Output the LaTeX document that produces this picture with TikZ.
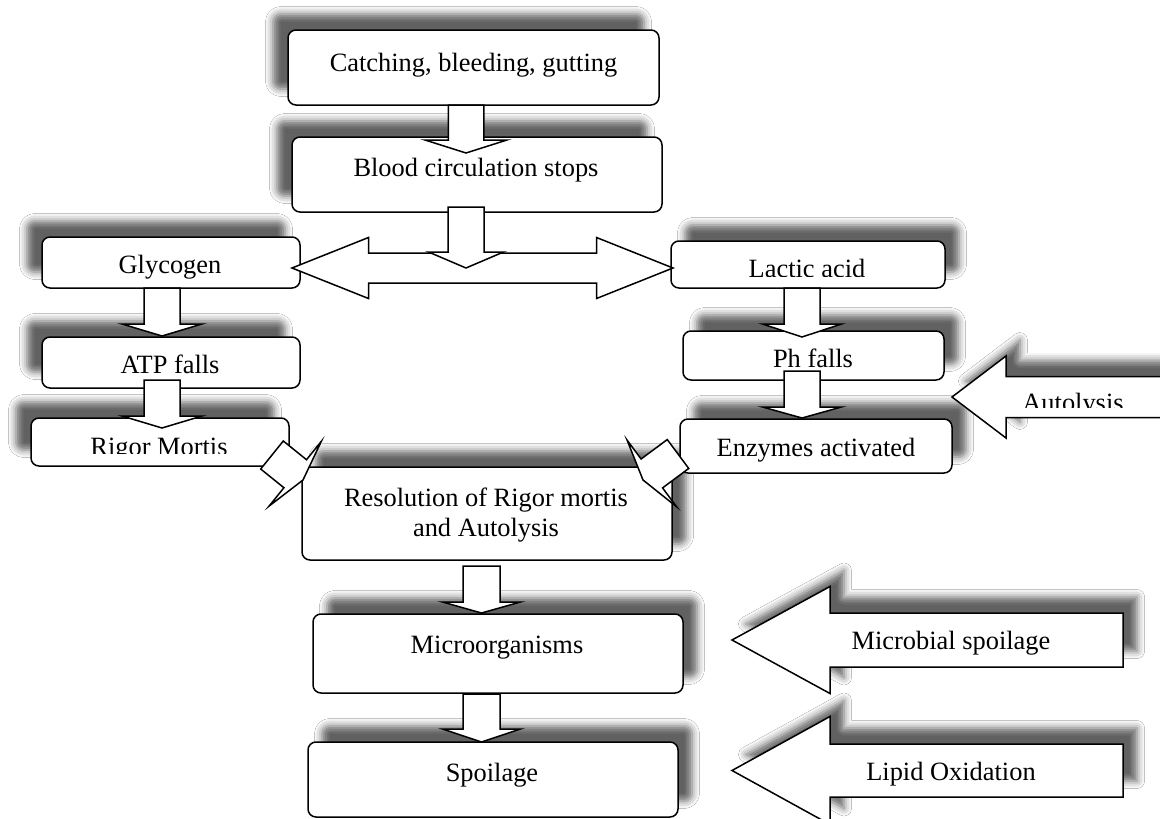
\documentclass[tikz,border=0pt]{standalone}
\usepackage{fontspec}
\setmainfont{Liberation Serif}
\usetikzlibrary{calc,shadows.blur}
\tikzset{
  box/.style={draw=black, line width=1.5pt, rounded corners=8pt, fill=white, inner sep=0pt},
  lsh/.style={blur shadow={shadow xshift=-15pt, shadow yshift=16pt, shadow blur radius=7.5pt, shadow opacity=62}},
  rsh/.style={blur shadow={shadow xshift=14pt, shadow yshift=16pt, shadow blur radius=7.5pt, shadow opacity=62}},
  txt/.style={font=\fontsize{26.4}{31}\selectfont, inner sep=0pt, anchor=base},
  barrow/.style={draw=black, line width=1.5pt, fill=white, line join=miter, miter limit=12},
}
% #1 extra style, #2 start, #3 tip, #4 half shaft width, #5 half head width, #6 head length
\newcommand{\blockarrow}[6][]{%
  \coordinate (bah) at ($(#3)!#6pt!(#2)$);
  \draw[barrow,#1] ($(#2)!#4pt!90:(#3)$) -- ($(bah)!#4pt!90:(#3)$) -- ($(bah)!#5pt!90:(#3)$) -- (#3)
     -- ($(bah)!#5pt!-90:(#3)$) -- ($(bah)!#4pt!-90:(#3)$) -- ($(#2)!#4pt!-90:(#3)$) -- cycle;}
% #1 left tip, #2 right tip, #3 half shaft, #4 half head, #5 head length
\newcommand{\dblarrow}[5]{%
  \coordinate (dhl) at ($(#1)!#5pt!(#2)$);
  \coordinate (dhr) at ($(#2)!#5pt!(#1)$);
  \draw[barrow] (#1) -- ($(dhl)!#4pt!90:(#2)$) -- ($(dhl)!#3pt!90:(#2)$) -- ($(dhr)!#3pt!-90:(#1)$)
     -- ($(dhr)!#4pt!-90:(#1)$) -- (#2) -- ($(dhr)!#4pt!90:(#1)$) -- ($(dhr)!#3pt!90:(#1)$)
     -- ($(dhl)!#3pt!-90:(#2)$) -- ($(dhl)!#4pt!-90:(#2)$) -- cycle;}
\begin{document}
\begin{tikzpicture}[x=1pt,y=-1pt]
\useasboundingbox (0,0) rectangle (1160,819);
\fill[white] (0,0) rectangle (1160,819);
\clip (0,0) rectangle (1160,819);
% boxes
\node[box,rsh,minimum width=370pt,minimum height=93pt] (resol) at (487,513.5) {};
\node[box,lsh,minimum width=371pt,minimum height=75pt] (catch) at (473.5,67.5) {};
\node[box,lsh,minimum width=370pt,minimum height=75pt] (blood) at (477,174.5) {};
\node[box,lsh,minimum width=258pt,minimum height=51pt] (glyco) at (171,262.5) {};
\node[box,lsh,minimum width=258pt,minimum height=51pt] (atp) at (171,362.5) {};
\node[box,lsh,minimum width=258pt,minimum height=48pt] (rigor) at (160,442) {};
\node[box,rsh,minimum width=274pt,minimum height=47pt] (lactic) at (808,264.5) {};
\node[box,rsh,minimum width=261pt,minimum height=49pt] (ph) at (813.5,355.5) {};
\node[box,rsh,minimum width=272pt,minimum height=54pt] (enz) at (816,446) {};
\node[box,rsh,minimum width=370pt,minimum height=79pt] (micro) at (498,653.5) {};
\node[box,rsh,minimum width=370pt,minimum height=75pt] (spoil) at (493,779.5) {};
% texts
\node[txt] (catchT) at (473.5,71) {Catching, bleeding, gutting};
\node[txt] (bloodT) at (476,176) {Blood circulation stops};
\node[txt] (glycoT) at (170,273) {Glycogen};
\node[txt] (atpT) at (170,373) {ATP falls};
\begin{scope}
  \clip (0,0) rectangle (1160,453);
  \node[txt] (rigorT) at (159,455) {Rigor Mortis};
\end{scope}
\begin{scope}
  \clip (0,0) rectangle (1160,276);
  \node[txt] (lacticT) at (807,277) {Lactic acid};
\end{scope}
\node[txt] (phT) at (813,367) {Ph falls};
\node[txt] (enzT) at (816,456) {Enzymes activated};
\node[txt] (resolA) at (486,506) {Resolution of Rigor mortis};
\node[txt] (resolB) at (486,536) {and Autolysis};
\node[txt] (microT) at (497,653) {Microorganisms};
\node[txt] (spoilT) at (492,781) {Spoilage};
% connector end points
\coordinate (dl) at (292,268);  \coordinate (dr) at (673,268);
\coordinate (a1s) at (466,105); \coordinate (a1t) at (466,153);
\coordinate (a2s) at (466,207); \coordinate (a2t) at (466,268);
\coordinate (a3s) at (162,288); \coordinate (a3t) at (162,336);
\coordinate (a4s) at (162,380); \coordinate (a4t) at (162,428);
\coordinate (a5s) at (802,288); \coordinate (a5t) at (802,337);
\coordinate (a6s) at (802,371); \coordinate (a6t) at (802,418);
\coordinate (a7s) at (481.5,566); \coordinate (a7t) at (481.5,613);
\coordinate (a8s) at (481.5,694); \coordinate (a8t) at (481.5,742);
\coordinate (dgls) at (272,455); \coordinate (dglt) at (303,480);
\coordinate (dgrs) at (678,454); \coordinate (dgrt) at (643,480);
\coordinate (auts) at (1180,397); \coordinate (autt) at (952,397);
\coordinate (mics) at (1123,640); \coordinate (mict) at (732,640);
\coordinate (lips) at (1123,770.5); \coordinate (lipt) at (732,770.5);
% arrows
\dblarrow{dl}{dr}{15}{30.5}{76.5}
\blockarrow{a1s}{a1t}{17.75}{41}{13}
\blockarrow{a2s}{a2t}{18}{37.5}{16}
\blockarrow{a3s}{a3t}{18}{40}{12}
\blockarrow{a4s}{a4t}{18}{40}{12}
\blockarrow{a5s}{a5t}{18}{39.5}{13}
\blockarrow{a6s}{a6t}{18}{39.5}{11}
\blockarrow{a7s}{a7t}{18.5}{39}{11}
\blockarrow{a8s}{a8t}{18.5}{39}{13}
\blockarrow{dgls}{dglt}{18}{41.5}{10}
\blockarrow{dgrs}{dgrt}{18}{41.5}{11}
\blockarrow[rsh]{auts}{autt}{20.5}{41}{54}
\blockarrow[rsh]{mics}{mict}{27}{53.5}{98}
\blockarrow[rsh]{lips}{lipt}{26.5}{54}{98}
\begin{scope}
  \clip (0,0) rectangle (1160,407);
  \node[txt] (autT) at (1073,411) {Autolysis};
\end{scope}
\node[txt] (micT) at (951,649) {Microbial spoilage};
\node[txt] (lipT) at (951,780) {Lipid Oxidation};
\end{tikzpicture}
\end{document}
